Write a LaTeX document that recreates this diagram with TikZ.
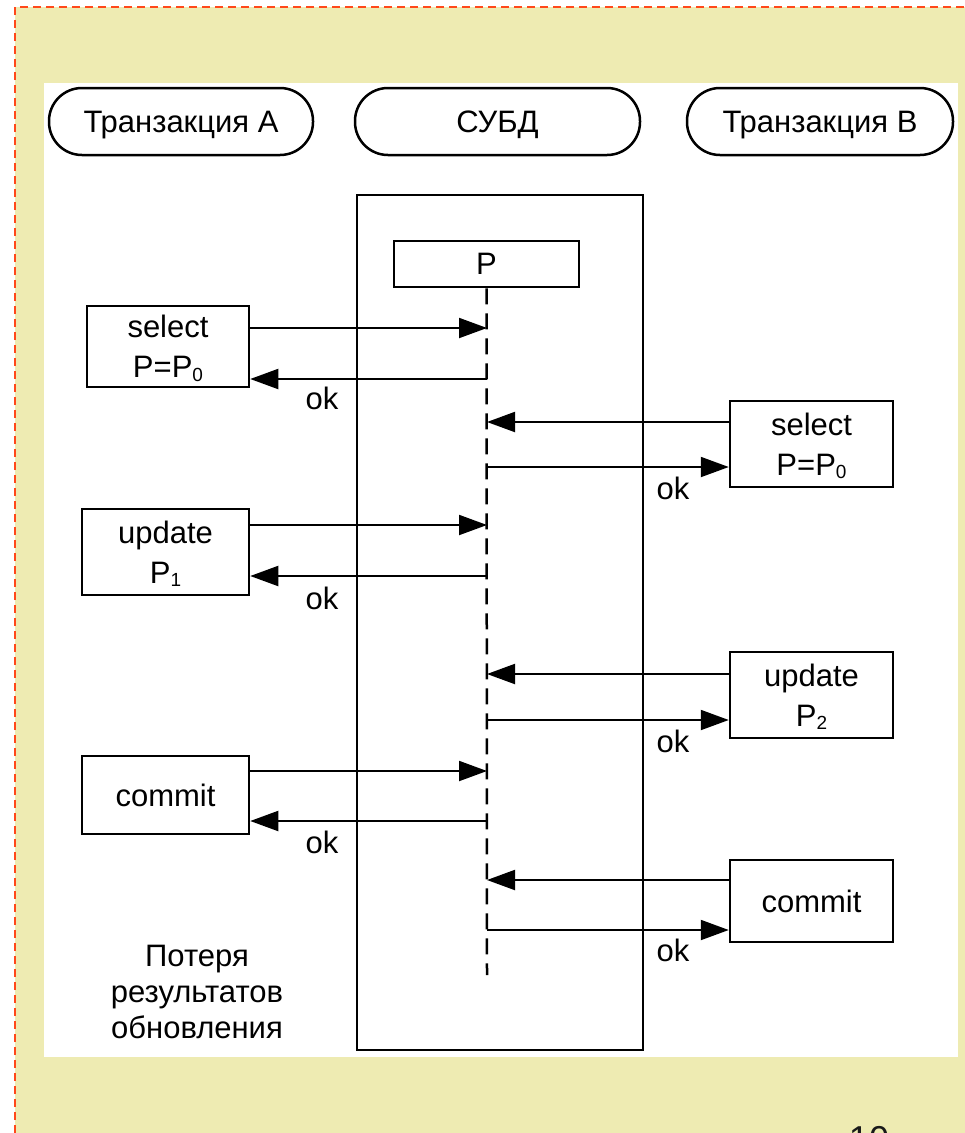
\documentclass[tikz,border=0pt]{standalone}
\usepackage{fontspec}
\setmainfont{Liberation Sans}
\usetikzlibrary{arrows.meta}
\definecolor{pagebg}{RGB}{238,235,178}
\definecolor{frameline}{RGB}{255,72,26}
% small subscript digit set just below the baseline
\newcommand\lowsub[1]{\raisebox{-3.5pt}{\fontsize{19}{19}\selectfont #1}}

\begin{document}
\begin{tikzpicture}[x=1pt,y=-1pt,
  every node/.style={font=\fontsize{31}{36}\selectfont},
  pill/.style={draw,line width=2.5pt,rounded corners=33pt,minimum height=67pt,inner sep=0pt,fill=white,
    text height=22pt,text depth=0pt},
  msgbox/.style={draw,line width=2.5pt,inner sep=0pt,align=center,fill=white,
    font=\fontsize{31}{40}\selectfont,text depth=0pt},
  msg/.style={line width=2pt,-{Triangle[length=28pt,width=20pt]}},
  oklabel/.style={inner sep=0pt},
  lifeline/.style={line width=2.5pt,dash pattern=on 16pt off 9pt}
]
\useasboundingbox (0,0) rectangle (965,1133);
\clip (0,0) rectangle (965,1133);

% slide background and its dashed frame
\fill[pagebg] (15,7) rectangle (965,1133);
\draw[frameline,line width=2pt,dash pattern=on 8pt off 5pt] (15,1133) -- (15,7) -- (965,7);
\fill[white] (44,83) rectangle (958,1057);

% participants
\node[pill,minimum width=264pt] (ta) at (181,121.5) {Транзакция A};
\node[pill,minimum width=285pt] (db) at (497.5,121.5) {СУБД};
\node[pill,minimum width=266pt] (tb) at (820,121.5) {Транзакция B};

% DBMS activation box with the record P and its lifeline
\node[draw,line width=2.5pt,minimum width=286pt,minimum height=855pt,inner sep=0pt] (dbms) at (500,622.5) {};
\node[msgbox,minimum width=185pt,minimum height=46pt] (P) at (486.5,264) {P};
\coordinate (lend) at (487,975);
\draw[lifeline] (P.south) -- (lend);

% request boxes of transaction A
\node[msgbox,minimum width=162pt,minimum height=81pt] (selA) at (168,346.5) {select\\P=P\lowsub{0}};
\node[msgbox,minimum width=167pt,minimum height=86pt] (updA) at (165.5,552) {update\\P\lowsub{1}};
\node[msgbox,minimum width=167pt,minimum height=78pt] (comA) at (165.5,795) {commit};

% request boxes of transaction B
\node[msgbox,minimum width=163pt,minimum height=86pt] (selB) at (811.5,444) {select\\P=P\lowsub{0}};
\node[msgbox,minimum width=163pt,minimum height=86pt] (updB) at (811.5,695) {update\\P\lowsub{2}};
\node[msgbox,minimum width=163pt,minimum height=82pt] (comB) at (811.5,901) {commit};

% points on the lifeline where messages arrive and leave
\coordinate (a1) at (487,328);  \coordinate (a2) at (487,379);
\coordinate (b1) at (487,422);  \coordinate (b2) at (487,467);
\coordinate (a3) at (487,525);  \coordinate (a4) at (487,576);
\coordinate (b3) at (487,674);  \coordinate (b4) at (487,720);
\coordinate (a5) at (487,771);  \coordinate (a6) at (487,821);
\coordinate (b5) at (487,880);  \coordinate (b6) at (487,930);

% transaction A messages
\draw[msg] (selA.east |- a1) -- (a1);
\draw[msg] (a2) -- (selA.east |- a2);
\draw[msg] (updA.east |- a3) -- (a3);
\draw[msg] (a4) -- (updA.east |- a4);
\draw[msg] (comA.east |- a5) -- (a5);
\draw[msg] (a6) -- (comA.east |- a6);

% transaction B messages
\draw[msg] (selB.west |- b1) -- (b1);
\draw[msg] (b2) -- (selB.west |- b2);
\draw[msg] (updB.west |- b3) -- (b3);
\draw[msg] (b4) -- (updB.west |- b4);
\draw[msg] (comB.west |- b5) -- (b5);
\draw[msg] (b6) -- (comB.west |- b6);

% replies
\node[oklabel] (ok1) at (322,398) {ok};
\node[oklabel] (ok2) at (673,488) {ok};
\node[oklabel] (ok3) at (322,598) {ok};
\node[oklabel] (ok4) at (673,741) {ok};
\node[oklabel] (ok5) at (322,842) {ok};
\node[oklabel] (ok6) at (673,950) {ok};

% caption
\node[align=center] (lost) at (197,992) {Потеря\\результатов\\обновления};

% slide number
\node[font=\fontsize{36}{36}\selectfont,anchor=base,inner sep=0pt,text=black!90] (pagenum) at (869,1151) {10};
\end{tikzpicture}
\end{document}
